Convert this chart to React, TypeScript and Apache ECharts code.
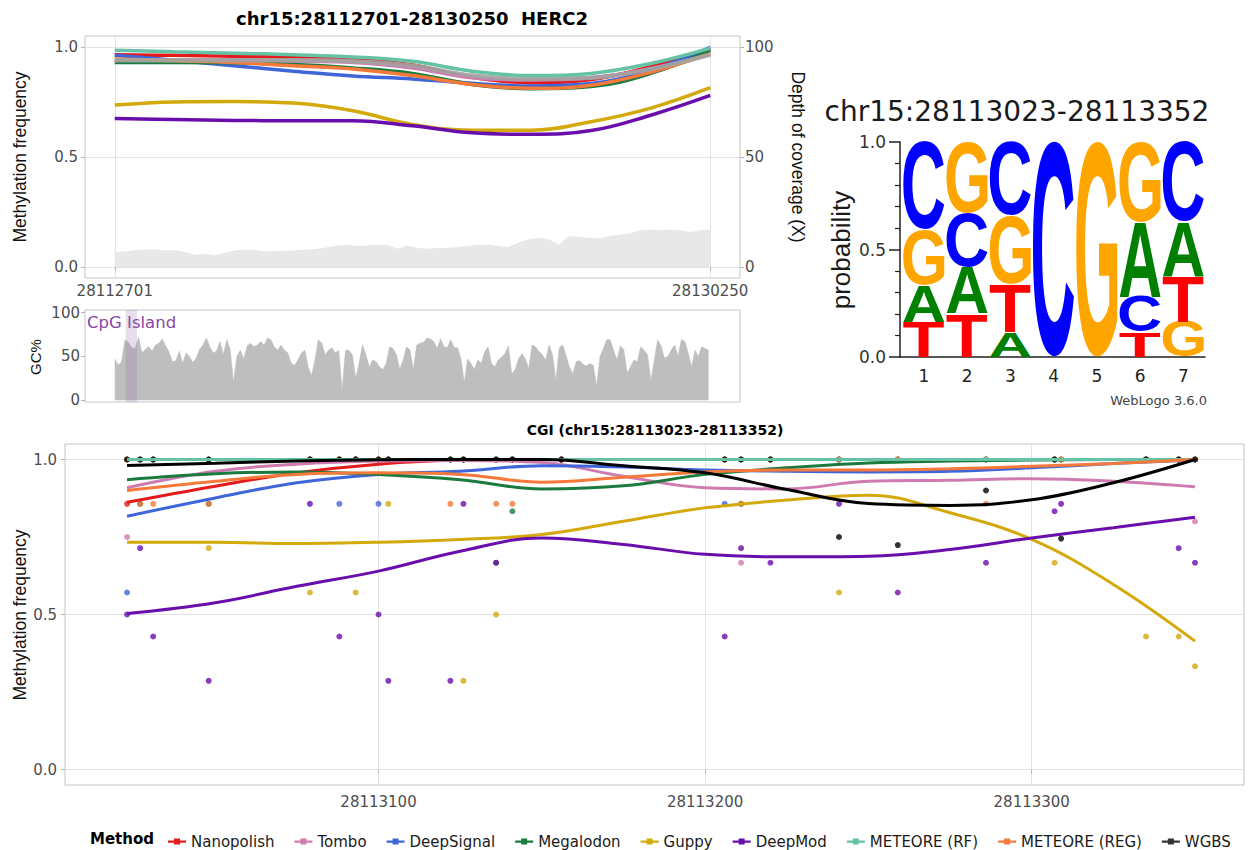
import React, { useEffect, useRef } from 'react';
import * as echarts from 'echarts';

// ---------- fonts ----------
const SANS = '"DejaVu Sans", sans-serif';
const ARIAL = '"Liberation Sans", Arial, sans-serif';

// ---------- region (whole gene window) ----------
const REGION_START = 28112701;
const REGION_END = 28130250;
const CGI_START = 28113023;
const CGI_END = 28113352;

const METHODS = ['Nanopolish', 'Tombo', 'DeepSignal', 'Megalodon', 'Guppy', 'DeepMod', 'METEORE (RF)', 'METEORE (REG)', 'WGBS'];
const METHOD_COLORS = ['#E41A1C', '#CF7BB0', '#3F66D9', '#1B7A3E', '#D4A90B', '#6A0DAD', '#66C2A5', '#F4793A', '#000000'];

// smoothed frequency along the region, sampled at fractions of its span
const REGION_FRACTIONS = [0, 0.1, 0.2, 0.3, 0.4, 0.5, 0.6, 0.7, 0.8, 0.9, 1.0];
const REGION_NANOPOLISH = [0.965, 0.962, 0.958, 0.952, 0.945, 0.918, 0.862, 0.838, 0.852, 0.91, 0.99];
const REGION_TOMBO = [0.935, 0.94, 0.94, 0.935, 0.93, 0.905, 0.86, 0.85, 0.86, 0.9, 0.97];
const REGION_DEEPSIGNAL = [0.962, 0.94, 0.915, 0.89, 0.868, 0.855, 0.835, 0.823, 0.834, 0.895, 0.998];
const REGION_MEGALODON = [0.93, 0.93, 0.928, 0.92, 0.905, 0.88, 0.83, 0.81, 0.82, 0.88, 0.985];
const REGION_GUPPY = [0.736, 0.75, 0.752, 0.745, 0.71, 0.648, 0.622, 0.622, 0.66, 0.722, 0.815];
const REGION_DEEPMOD = [0.675, 0.67, 0.666, 0.665, 0.665, 0.642, 0.61, 0.603, 0.62, 0.69, 0.78];
const REGION_RF = [0.985, 0.978, 0.972, 0.965, 0.955, 0.935, 0.89, 0.87, 0.88, 0.925, 0.995];
const REGION_REG = [0.945, 0.938, 0.93, 0.915, 0.9, 0.87, 0.83, 0.812, 0.826, 0.885, 0.97];
const REGION_BAND = [0.94, 0.94, 0.94, 0.94, 0.935, 0.915, 0.87, 0.855, 0.86, 0.9, 0.965];

// read depth (X), evenly spaced across the region
const COVERAGE = [
  6.8, 7.1, 7.6, 7.9, 7.9, 7.6, 7.6, 6.8, 5.6, 5.9,
  5.3, 6.5, 7.6, 8.0, 7.6, 7.1, 7.3, 7.4, 7.6, 7.9,
  8.3, 8.9, 9.8, 10.1, 9.5, 9.8, 10.1, 10.1, 8.3, 9.8,
  8.6, 8.3, 8.6, 8.8, 9.1, 9.5, 10.1, 10.1, 9.5, 9.1,
  11.1, 12.6, 13.2, 12.6, 10.1, 14.1, 13.6, 13.2, 12.9, 14.1,
  14.7, 15.2, 16.7, 17.1, 16.7, 17.1, 16.7, 15.9, 16.7, 17.1,
];

// GC content (%) in 100 bp steps from the region start
const GC_STEP = 100;
const GC_PERCENT = [
  47, 40, 44, 69, 66, 60, 59, 72, 54, 58,
  61, 56, 63, 65, 70, 62, 55, 44, 45, 56,
  42, 54, 50, 43, 48, 58, 63, 71, 61, 54,
  56, 67, 52, 69, 58, 20, 50, 57, 47, 62,
  65, 61, 63, 67, 63, 71, 69, 61, 57, 63,
  57, 54, 42, 40, 46, 54, 57, 38, 28, 46,
  69, 65, 52, 57, 60, 54, 57, 11, 57, 57,
  52, 25, 42, 63, 52, 38, 46, 44, 38, 35,
  42, 61, 59, 52, 35, 46, 61, 57, 35, 63,
  65, 66, 71, 70, 67, 59, 70, 61, 60, 69,
  60, 60, 48, 20, 47, 42, 35, 46, 42, 55,
  61, 42, 38, 46, 49, 53, 62, 30, 35, 47,
  53, 47, 36, 63, 61, 56, 52, 46, 63, 52,
  22, 60, 63, 51, 38, 30, 44, 45, 41, 39,
  42, 40, 16, 50, 59, 69, 69, 57, 46, 62,
  58, 31, 38, 46, 44, 61, 57, 52, 22, 45,
  69, 62, 48, 50, 57, 63, 50, 69, 67, 54,
  38, 57, 50, 61, 59, 57,
];

// ---------- sequence logo of the CGI ----------
const LOGO_POSITIONS = [1, 2, 3, 4, 5, 6, 7];
const LOGO_A = [0.17, 0.218, 0.116, 0, 0, 0.349, 0.256];
const LOGO_C = [0.408, 0.248, 0.341, 1, 0, 0.163, 0.372];
const LOGO_G = [0.259, 0.333, 0.321, 0, 1, 0.372, 0.163];
const LOGO_T = [0.163, 0.201, 0.222, 0, 0, 0.116, 0.209];
const LOGO_LETTERS = ['A', 'C', 'G', 'T'];
const LOGO_COLORS = ['#008000', '#0000FF', '#FFA500', '#FF0000'];

// ---------- CGI detail ----------
const CGI_SMOOTH_POS = [28113023, 28113050, 28113075, 28113100, 28113125, 28113150, 28113175, 28113200, 28113225, 28113250, 28113275, 28113300, 28113325, 28113350];
const CGI_NANOPOLISH = [0.862, 0.914, 0.957, 0.985, 0.998, 1, 1, 1, 1, 1, 1, 1, 1, 1];
const CGI_TOMBO = [0.909, 0.962, 0.985, 0.995, 0.997, 0.99, 0.946, 0.909, 0.905, 0.93, 0.933, 0.938, 0.93, 0.912];
const CGI_DEEPSIGNAL = [0.817, 0.876, 0.925, 0.952, 0.962, 0.98, 0.976, 0.966, 0.962, 0.96, 0.962, 0.973, 0.987, 0.998];
const CGI_MEGALODON = [0.935, 0.954, 0.96, 0.952, 0.935, 0.905, 0.915, 0.952, 0.973, 0.989, 0.995, 0.998, 1, 1];
const CGI_GUPPY = [0.733, 0.733, 0.729, 0.733, 0.742, 0.758, 0.801, 0.844, 0.869, 0.885, 0.828, 0.742, 0.597, 0.414];
const CGI_DEEPMOD = [0.503, 0.538, 0.591, 0.64, 0.704, 0.747, 0.726, 0.694, 0.686, 0.688, 0.71, 0.747, 0.78, 0.814];
const CGI_RF = [1, 1, 1, 1, 1, 1, 1, 1, 1, 1, 1, 1, 1, 1];
const CGI_REG = [0.9, 0.93, 0.952, 0.957, 0.952, 0.927, 0.943, 0.96, 0.966, 0.966, 0.97, 0.978, 0.987, 1];
const CGI_WGBS = [0.981, 0.988, 0.995, 0.999, 1, 1, 0.98, 0.957, 0.903, 0.858, 0.852, 0.87, 0.925, 1];

// per-CpG calls
const CPG_SITES = [28113023, 28113027, 28113031, 28113048, 28113079, 28113088, 28113093, 28113100, 28113103, 28113122, 28113126, 28113136, 28113141, 28113156, 28113206, 28113211, 28113220, 28113241, 28113259, 28113286, 28113307, 28113309, 28113335, 28113345, 28113350];
const SITE_NANOPOLISH = [0.857, 1, 1, 1, 1, 1, 1, 1, 1, 1, 1, 1, 1, 1, 1, 1, 1, 1, 1, 1, 1, 1, 1, 1, 1];
const SITE_TOMBO = [0.75, 1, 1, 1, 1, 1, 1, 1, 1, 1, 1, 1, 1, 1, 1, 0.667, 1, 1, 1, 1, 1, 1, 1, 1, 0.8];
const SITE_DEEPSIGNAL = [0.571, 1, 1, 1, 1, 0.857, 1, 0.857, 1, 1, 1, 1, 1, 1, 0.857, 1, 1, 1, 1, 1, 1, 1, 1, 1, 1];
const SITE_MEGALODON = [1, 0.857, 1, 0.857, 1, 1, 1, 1, 1, 1, 1, 0.667, 0.833, 1, 1, 0.857, 1, 1, 1, 1, 1, 1, 1, 1, 1];
const SITE_GUPPY = [1, 1, 1, 0.714, 0.571, 1, 0.571, 1, 0.857, 1, 0.286, 0.5, 1, 1, 1, 1, 1, 0.571, 1, 1, 0.667, 1, 0.429, 0.429, 0.333];
const SITE_DEEPMOD = [0.5, 0.714, 0.429, 0.286, 0.857, 0.429, 1, 0.5, 0.286, 0.286, 0.857, 0.667, 1, 1, 0.429, 0.714, 0.667, 0.857, 0.571, 0.667, 0.833, 0.857, 1, 0.714, 0.667];
const SITE_RF = [1, 1, 1, 1, 1, 1, 1, 1, 1, 1, 1, 1, 1, 1, 1, 1, 1, 1, 1, 1, 1, 1, 1, 1, 1];
const SITE_REG = [1, 0.857, 0.857, 0.857, 1, 1, 1, 1, 1, 0.857, 1, 0.857, 0.857, 1, 1, 0.857, 1, 1, 1, 0.857, 1, 1, 1, 1, 1];
const SITE_WGBS = [1, 1, 1, 1, 1, 1, 1, 1, 1, 1, 1, 1, 1, 1, 1, 1, 1, 0.75, 0.724, 0.9, 1, 0.745, 1, 1, 1];

const REGION_SERIES = [REGION_NANOPOLISH, REGION_TOMBO, REGION_DEEPSIGNAL, REGION_MEGALODON, REGION_GUPPY, REGION_DEEPMOD, REGION_RF, REGION_REG, null];
const CGI_SERIES = [CGI_NANOPOLISH, CGI_TOMBO, CGI_DEEPSIGNAL, CGI_MEGALODON, CGI_GUPPY, CGI_DEEPMOD, CGI_RF, CGI_REG, CGI_WGBS];
const SITE_SERIES = [SITE_NANOPOLISH, SITE_TOMBO, SITE_DEEPSIGNAL, SITE_MEGALODON, SITE_GUPPY, SITE_DEEPMOD, SITE_RF, SITE_REG, SITE_WGBS];

// ---------- helpers ----------
type Ink = { left: number; right: number; asc: number; desc: number };

const LETTER_FONT = `bold 100px ${ARIAL}`;

// ink box of each letter relative to its alphabetic baseline
function measureLetters(): Record<string, Ink> {
  const canvas = document.createElement('canvas');
  const ctx = canvas.getContext('2d') as CanvasRenderingContext2D;
  ctx.font = LETTER_FONT;
  ctx.textBaseline = 'alphabetic';
  ctx.textAlign = 'left';
  const out: Record<string, Ink> = {};
  LOGO_LETTERS.forEach((l) => {
    const m = ctx.measureText(l);
    out[l] = {
      left: m.actualBoundingBoxLeft,
      right: m.actualBoundingBoxRight,
      asc: m.actualBoundingBoxAscent,
      desc: m.actualBoundingBoxDescent,
    };
  });
  return out;
}

// distance from the SVG "central" baseline down to the alphabetic baseline
function centralToAlphabetic(): number {
  const NS = 'http://www.w3.org/2000/svg';
  const svg = document.createElementNS(NS, 'svg');
  svg.setAttribute('width', '400');
  svg.setAttribute('height', '400');
  svg.setAttribute('style', 'position:absolute;left:-2000px;top:0;');
  const make = (central: boolean) => {
    const t = document.createElementNS(NS, 'text');
    t.setAttribute('x', '0');
    t.setAttribute('y', '200');
    if (central) t.setAttribute('dominant-baseline', 'central');
    t.setAttribute('style', `font: ${LETTER_FONT}`);
    t.textContent = 'C';
    svg.appendChild(t);
    return t;
  };
  const alpha = make(false);
  const central = make(true);
  document.body.appendChild(svg);
  let d = 0;
  try {
    d = central.getBBox().y - alpha.getBBox().y;
  } catch (e) {
    d = 0;
  }
  document.body.removeChild(svg);
  return isFinite(d) ? d : 0;
}

const AXIS_TEXT = '#4d4d4d';
const TICK_COLOR = '#b3b3b3';
const GRID_LINE = '#e3e3e3';
const BORDER = '#c4c4c4';

function buildOption() {
  const span = REGION_END - REGION_START;
  const regionMin = REGION_START - 0.05 * span;
  const regionMax = REGION_END + 0.05 * span;
  const inks = measureLetters();
  const baseShift = centralToAlphabetic();

  const series: any[] = [];

  // coverage area on the right axis
  const covStep = span / (COVERAGE.length - 1);
  series.push({
    type: 'line',
    xAxisIndex: 0,
    yAxisIndex: 1,
    data: COVERAGE.map((v, i) => [REGION_START + i * covStep, v]),
    symbol: 'none',
    lineStyle: { width: 0 },
    areaStyle: { color: '#e8e8e8', opacity: 1 },
    silent: true,
    z: 1,
  });

  // smoothed region lines
  const regionPos = REGION_FRACTIONS.map((f) => REGION_START + f * span);
  const regionOrder = [0, 1, 2, 3, 4, 5, 7, -1, 6];
  regionOrder.forEach((mi) => {
    if (mi === -1) {
      series.push({
        type: 'line',
        xAxisIndex: 0,
        yAxisIndex: 0,
        data: regionPos.map((x, i) => [x, REGION_BAND[i]]),
        symbol: 'none',
        smooth: 0.4,
        lineStyle: { width: 4.5, color: '#a3a3a3', opacity: 0.9 },
        silent: true,
        z: 3,
      });
      return;
    }
    const vals = REGION_SERIES[mi];
    if (!vals) return;
    series.push({
      name: METHODS[mi],
      type: 'line',
      xAxisIndex: 0,
      yAxisIndex: 0,
      data: regionPos.map((x, i) => [x, vals[i]]),
      symbol: 'none',
      smooth: 0.4,
      color: METHOD_COLORS[mi],
      lineStyle: { width: 3.5, color: METHOD_COLORS[mi] },
      silent: true,
      z: 3,
    });
  });

  // GC content
  series.push({
    type: 'line',
    xAxisIndex: 1,
    yAxisIndex: 2,
    data: GC_PERCENT.map((v, i) => [REGION_START + i * GC_STEP, v]),
    symbol: 'none',
    lineStyle: { width: 0.6, color: '#bebebe' },
    areaStyle: { color: '#bebebe', opacity: 1 },
    silent: true,
    z: 2,
  });

  // CpG island band
  series.push({
    type: 'custom',
    xAxisIndex: 1,
    yAxisIndex: 2,
    data: [[CGI_START, CGI_END, 0]],
    encode: { x: [0, 1], y: 2 },
    silent: true,
    z: 4,
    renderItem: (params: any, api: any) => {
      const cs = params.coordSys;
      const x0 = api.coord([api.value(0), 0])[0];
      const x1 = api.coord([api.value(1), 0])[0];
      return {
        type: 'rect',
        shape: { x: x0, y: cs.y, width: x1 - x0, height: cs.height },
        style: { fill: 'rgba(150,100,170,0.22)' },
      };
    },
  });

  // sequence logo stacks
  const logoData: number[][] = [];
  LOGO_POSITIONS.forEach((pos, pi) => {
    const probs = [LOGO_A[pi], LOGO_C[pi], LOGO_G[pi], LOGO_T[pi]];
    const order = [0, 1, 2, 3].filter((k) => probs[k] > 0).sort((a, b) => probs[a] - probs[b]);
    let base = 0;
    order.forEach((k) => {
      logoData.push([pos, base, base + probs[k], k]);
      base += probs[k];
    });
  });
  series.push({
    type: 'custom',
    xAxisIndex: 2,
    yAxisIndex: 3,
    data: logoData,
    encode: { x: 0, y: [1, 2] },
    silent: true,
    z: 3,
    renderItem: (params: any, api: any) => {
      const pos = api.value(0);
      const bottom = api.value(1);
      const top = api.value(2);
      const k = api.value(3);
      const letter = LOGO_LETTERS[k];
      const ink = inks[letter];
      const pTop = api.coord([pos - 0.5, top]);
      const pBot = api.coord([pos + 0.5, bottom]);
      const x0 = pTop[0] + 1;
      const x1 = pBot[0] - 1;
      const y0 = pTop[1];
      const y1 = pBot[1];
      const sx = (x1 - x0) / (ink.left + ink.right);
      const sy = (y1 - y0) / (ink.asc + ink.desc);
      return {
        type: 'text',
        x: x0 + ink.left * sx,
        y: y1 - (baseShift + ink.desc) * sy,
        scaleX: sx,
        scaleY: sy,
        style: {
          text: letter,
          fontSize: 100,
          fontFamily: ARIAL,
          fontWeight: 'bold',
          fill: LOGO_COLORS[k],
          align: 'left',
          verticalAlign: 'middle',
        },
      };
    },
  });

  // CGI per-site calls
  METHODS.forEach((name, mi) => {
    const vals = SITE_SERIES[mi];
    series.push({
      name,
      type: 'scatter',
      xAxisIndex: 3,
      yAxisIndex: 4,
      data: CPG_SITES.map((x, i) => [x, vals[i]]),
      symbol: 'circle',
      symbolSize: 6,
      color: METHOD_COLORS[mi],
      itemStyle: { color: METHOD_COLORS[mi], opacity: 0.8 },
      silent: true,
      z: 2,
    });
  });

  // CGI smoothed lines
  METHODS.forEach((name, mi) => {
    const vals = CGI_SERIES[mi];
    series.push({
      name,
      type: 'line',
      xAxisIndex: 3,
      yAxisIndex: 4,
      data: CGI_SMOOTH_POS.map((x, i) => [x, vals[i]]),
      symbol: 'none',
      smooth: 0.4,
      color: METHOD_COLORS[mi],
      lineStyle: { width: 3, color: METHOD_COLORS[mi] },
      silent: true,
      z: 3,
    });
  });

  const tickStyle = { show: true, length: 4, inside: false, lineStyle: { color: TICK_COLOR, width: 1 } };
  const labelBase = { color: AXIS_TEXT, fontFamily: SANS, fontSize: 15 };

  const textEl = (x: number, y: number, text: string, opts: any = {}) => ({
    type: 'text',
    x,
    y,
    rotation: opts.rotation || 0,
    silent: true,
    style: {
      text,
      fontFamily: opts.fontFamily || SANS,
      fontSize: opts.fontSize || 15,
      fontWeight: opts.fontWeight || 'normal',
      fill: opts.fill || '#000',
      align: opts.align || 'center',
      verticalAlign: 'middle',
    },
  });

  return {
    animation: false,
    backgroundColor: '#ffffff',
    grid: [
      { left: 85, top: 36, width: 655, height: 242, show: true, borderColor: BORDER, borderWidth: 1, backgroundColor: 'transparent' },
      { left: 85, top: 310, width: 655, height: 92, show: true, borderColor: BORDER, borderWidth: 1, backgroundColor: 'transparent' },
      { left: 900, top: 142, width: 305, height: 215, show: false },
      { left: 65, top: 444, width: 1179, height: 341, show: true, borderColor: BORDER, borderWidth: 1, backgroundColor: 'transparent' },
    ],
    xAxis: [
      {
        gridIndex: 0,
        type: 'value',
        min: regionMin,
        max: regionMax,
        axisLine: { show: false },
        axisTick: { ...tickStyle, customValues: [REGION_START, REGION_END] },
        axisLabel: { ...labelBase, customValues: [REGION_START, REGION_END], formatter: (v: number) => String(Math.round(v)), margin: 5 },
        splitLine: { show: true, lineStyle: { color: GRID_LINE, width: 1 } },
      },
      {
        gridIndex: 1,
        type: 'value',
        min: regionMin,
        max: regionMax,
        axisLine: { show: false },
        axisTick: { show: false },
        axisLabel: { show: false },
        splitLine: { show: false },
      },
      {
        gridIndex: 2,
        type: 'value',
        min: 0.45,
        max: 7.5,
        axisLine: { show: true, onZero: false, lineStyle: { color: '#222', width: 1.5 } },
        axisTick: { show: false },
        axisLabel: { color: '#222', fontFamily: SANS, fontSize: 17, customValues: LOGO_POSITIONS, formatter: (v: number) => String(Math.round(v)), margin: 10 },
        splitLine: { show: false },
      },
      {
        gridIndex: 3,
        type: 'value',
        min: 28113004,
        max: 28113365,
        axisLine: { show: false },
        axisTick: { ...tickStyle, customValues: [28113100, 28113200, 28113300] },
        axisLabel: { ...labelBase, customValues: [28113100, 28113200, 28113300], formatter: (v: number) => String(Math.round(v)), margin: 9 },
        splitLine: { show: true, lineStyle: { color: GRID_LINE, width: 1 } },
      },
    ],
    yAxis: [
      {
        gridIndex: 0,
        type: 'value',
        min: -0.05,
        max: 1.05,
        axisLine: { show: false },
        axisTick: { ...tickStyle, customValues: [0, 0.5, 1] },
        axisLabel: { ...labelBase, customValues: [0, 0.5, 1], formatter: (v: number) => v.toFixed(1), margin: 7 },
        splitLine: { show: true, lineStyle: { color: GRID_LINE, width: 1 } },
      },
      {
        gridIndex: 0,
        type: 'value',
        position: 'right',
        min: -5,
        max: 105,
        axisLine: { show: false },
        axisTick: { ...tickStyle, customValues: [0, 50, 100] },
        axisLabel: { ...labelBase, customValues: [0, 50, 100], formatter: (v: number) => String(Math.round(v)), margin: 5 },
        splitLine: { show: false },
      },
      {
        gridIndex: 1,
        type: 'value',
        min: -2,
        max: 103,
        axisLine: { show: false },
        axisTick: { ...tickStyle, customValues: [0, 50, 100] },
        axisLabel: { ...labelBase, customValues: [0, 50, 100], formatter: (v: number) => String(Math.round(v)), margin: 5 },
        splitLine: { show: false },
      },
      {
        gridIndex: 2,
        type: 'value',
        min: 0,
        max: 1,
        interval: 0.5,
        axisLine: { show: true, lineStyle: { color: '#222', width: 1.5 } },
        axisTick: { show: true, length: 11, lineStyle: { color: '#222', width: 1.5 } },
        minorTick: { show: true, splitNumber: 5, length: 5, lineStyle: { color: '#222', width: 1.2 } },
        axisLabel: { color: '#333', fontFamily: SANS, fontSize: 17, formatter: (v: number) => v.toFixed(1), margin: 14 },
        splitLine: { show: false },
        minorSplitLine: { show: false },
      },
      {
        gridIndex: 3,
        type: 'value',
        min: -0.05,
        max: 1.05,
        axisLine: { show: false },
        axisTick: { ...tickStyle, customValues: [0, 0.5, 1] },
        axisLabel: { ...labelBase, customValues: [0, 0.5, 1], formatter: (v: number) => v.toFixed(1), margin: 8 },
        splitLine: { show: true, lineStyle: { color: GRID_LINE, width: 1 } },
      },
    ],
    legend: {
      show: true,
      data: METHODS,
      left: 163,
      top: 829,
      orient: 'horizontal',
      itemGap: 20,
      itemWidth: 18,
      itemHeight: 8,
      icon: 'path://M0,3h18v2.2h-18z M6,1h6v6h-6z',
      itemStyle: { borderWidth: 0 },
      selectedMode: false,
      textStyle: { fontFamily: SANS, fontSize: 15, color: '#1a1a1a' },
    },
    graphic: [
      textEl(412, 18, 'chr15:28112701-28130250  HERC2', { fontWeight: 'bold', fontSize: 18 }),
      textEl(20, 157, 'Methylation frequency', { rotation: Math.PI / 2, fontFamily: ARIAL, fontSize: 17.5, fill: '#111' }),
      textEl(798, 157, 'Depth of coverage (X)', { rotation: -Math.PI / 2, fontFamily: ARIAL, fontSize: 17.5, fill: '#111' }),
      textEl(35, 357, 'GC%', { rotation: Math.PI / 2, fontFamily: ARIAL, fontSize: 15, fill: '#111' }),
      textEl(87, 322, 'CpG Island', { align: 'left', fontSize: 16.5, fill: '#8B45A8' }),
      textEl(1017, 111, 'chr15:28113023-28113352', { fontSize: 28, fill: '#1a1a1a' }),
      textEl(841, 250, 'probability', { rotation: Math.PI / 2, fontFamily: ARIAL, fontSize: 26, fill: '#1a1a1a' }),
      textEl(1207, 400, 'WebLogo 3.6.0', { align: 'right', fontSize: 13, fill: '#444' }),
      textEl(655, 430, 'CGI (chr15:28113023-28113352)', { fontWeight: 'bold', fontSize: 14 }),
      textEl(20, 615, 'Methylation frequency', { rotation: Math.PI / 2, fontFamily: ARIAL, fontSize: 17.5, fill: '#111' }),
      textEl(90, 839, 'Method', { align: 'left', fontWeight: 'bold', fontSize: 15 }),
    ],
    series,
  };
}

export default function App() {
  const ref = useRef<HTMLDivElement>(null);
  useEffect(() => {
    if (!ref.current) return;
    const chart = echarts.init(ref.current, null, { renderer: 'svg' });
    chart.setOption(buildOption() as any);
    return () => {
      chart.dispose();
    };
  }, []);
  return (
    <div
      ref={ref}
      style={{ position: 'absolute', left: 0, top: 0, width: 1249, height: 850, background: '#ffffff' }}
    />
  );
}
